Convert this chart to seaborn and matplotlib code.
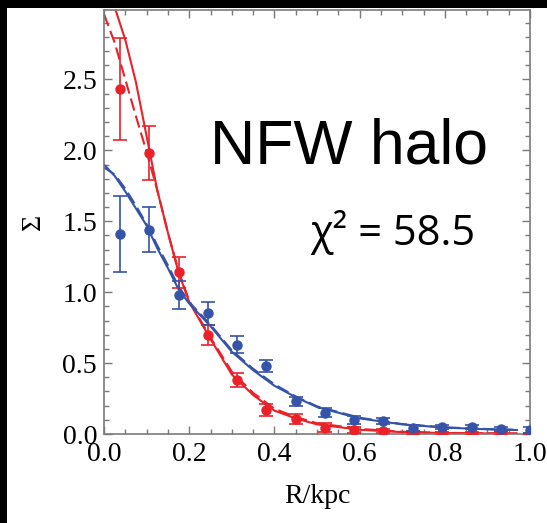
import matplotlib
matplotlib.use("Agg")
import matplotlib.pyplot as plt
from matplotlib.patches import Rectangle
from matplotlib.ticker import MultipleLocator
import numpy as np
import pandas as pd
import seaborn as sns

# Measured surface density profiles (two populations)
r_data = [0.037, 0.106, 0.175, 0.243, 0.312, 0.381, 0.450, 0.519,
          0.588, 0.656, 0.725, 0.794, 0.863, 0.931, 1.000]
sigma_red = [2.43, 1.98, 1.14, 0.70, 0.38, 0.17, 0.105, 0.045,
             0.03, 0.02, 0.01, 0.005, 0.005, 0.003, 0.0]
err_red = [0.36, 0.19, 0.11, 0.07, 0.05, 0.04, 0.035, 0.03,
           0.02, 0.015, 0.01, 0.01, 0.01, 0.01, 0.01]
sigma_blue = [1.41, 1.44, 0.98, 0.85, 0.63, 0.48, 0.23, 0.15,
              0.10, 0.09, 0.04, 0.05, 0.05, 0.035, 0.03]
err_blue = [0.27, 0.16, 0.10, 0.08, 0.06, 0.04, 0.03, 0.03,
            0.03, 0.02, 0.02, 0.015, 0.015, 0.015, 0.02]

# NFW model curves (solid: fit, dashed: alternative fit)
r_model = [0.0, 0.025, 0.05, 0.075, 0.1, 0.125, 0.15, 0.175, 0.2, 0.25,
           0.3, 0.35, 0.4, 0.45, 0.5, 0.6, 0.7, 0.8, 0.9, 0.97]
red_solid = [3.22, 3.01, 2.78, 2.48, 2.10, 1.72, 1.42, 1.14, 0.93, 0.67,
             0.42, 0.275, 0.165, 0.11, 0.068, 0.03, 0.013, 0.007, 0.004, 0.003]
red_dashed = [2.96, 2.76, 2.50, 2.24, 1.99, 1.72, 1.42, 1.15, 0.94, 0.68,
              0.44, 0.29, 0.178, 0.12, 0.076, 0.036, 0.016, 0.008, 0.005, 0.004]
blue_solid = [1.90, 1.82, 1.71, 1.59, 1.47, 1.31, 1.17, 1.02, 0.92, 0.76,
              0.58, 0.45, 0.34, 0.26, 0.19, 0.11, 0.068, 0.045, 0.033, 0.028]
blue_dashed = [1.88, 1.83, 1.73, 1.61, 1.48, 1.33, 1.19, 1.04, 0.93, 0.77,
               0.59, 0.46, 0.35, 0.265, 0.195, 0.115, 0.07, 0.047, 0.035, 0.03]

x_ticks = [0.0, 0.2, 0.4, 0.6, 0.8, 1.0]
y_ticks = [0.0, 0.5, 1.0, 1.5, 2.0, 2.5]

RED = "#ea2129"
BLUE = "#3553a8"
GRAY = "#7a7a7a"

sns.set_theme(style="ticks")
plt.rcParams["font.family"] = ["Liberation Serif", "DejaVu Serif"]
plt.rcParams["text.color"] = "black"
plt.rcParams["axes.labelcolor"] = "black"

models = pd.DataFrame({
    "r": r_model * 4,
    "sigma": red_solid + red_dashed + blue_solid + blue_dashed,
    "curve": (["red_solid"] * len(r_model) + ["red_dashed"] * len(r_model)
              + ["blue_solid"] * len(r_model) + ["blue_dashed"] * len(r_model)),
})

fig = plt.figure(figsize=(5.47, 5.23), dpi=100)
ax = fig.add_axes([104 / 547, 89 / 523, 426 / 547, 424 / 523])

palette = {"red_solid": RED, "red_dashed": RED,
           "blue_solid": BLUE, "blue_dashed": BLUE}
dashes = {"red_solid": "", "red_dashed": (6, 2.5),
          "blue_solid": "", "blue_dashed": (6, 2.5)}
sns.lineplot(data=models, x="r", y="sigma", hue="curve", style="curve",
             palette=palette, dashes=dashes, linewidth=1.5, legend=False,
             ax=ax, sort=False)

for y, e, c in ((sigma_red, err_red, RED), (sigma_blue, err_blue, BLUE)):
    ax.errorbar(r_data, y, yerr=e, fmt="o", color=c, ms=6.5, elinewidth=1.2,
                capsize=5, capthick=1.2, zorder=5)

ax.set_xlim(0, 1.0)
ax.set_ylim(0, 2.99)
ax.set_xticks(x_ticks)
ax.set_yticks(y_ticks)
ax.set_xticklabels([f"{v:.1f}" for v in x_ticks])
ax.set_yticklabels([f"{v:.1f}" for v in y_ticks])
ax.xaxis.set_minor_locator(MultipleLocator(0.05))
ax.yaxis.set_minor_locator(MultipleLocator(0.1))
ax.tick_params(which="both", direction="in", top=True, right=True,
               color=GRAY, width=1, labelsize=20, labelcolor="black")
ax.tick_params(which="major", length=6, pad=5)
ax.tick_params(which="minor", length=3.5)
ax.tick_params(axis="x", which="major", pad=6)
for s in ax.spines.values():
    s.set_color(GRAY)
    s.set_linewidth(1.2)

ax.set_xlabel("R/kpc", fontsize=20, labelpad=12, color="black")
ax.set_ylabel("Σ", fontsize=20, labelpad=12, color="black")

fig.text(210 / 547, 1 - 163 / 523, "NFW halo", fontsize=45, color="black",
         family=["Liberation Sans", "DejaVu Sans"], va="baseline", ha="left")
fig.text(310 / 547, 1 - 245 / 523, "χ² = 58.5", fontsize=30, color="black",
         family=["Open Sans", "DejaVu Sans"], va="baseline", ha="left")

# dark frame strips along the left and top edges
fig.patches.append(Rectangle((0, 0), 7 / 547, 1, transform=fig.transFigure,
                             facecolor="black", edgecolor="none", zorder=10))
fig.patches.append(Rectangle((0, 1 - 8 / 523), 1, 8 / 523,
                             transform=fig.transFigure, facecolor="black",
                             edgecolor="none", zorder=10))

fig.savefig("out.png", dpi=100, facecolor="white")
